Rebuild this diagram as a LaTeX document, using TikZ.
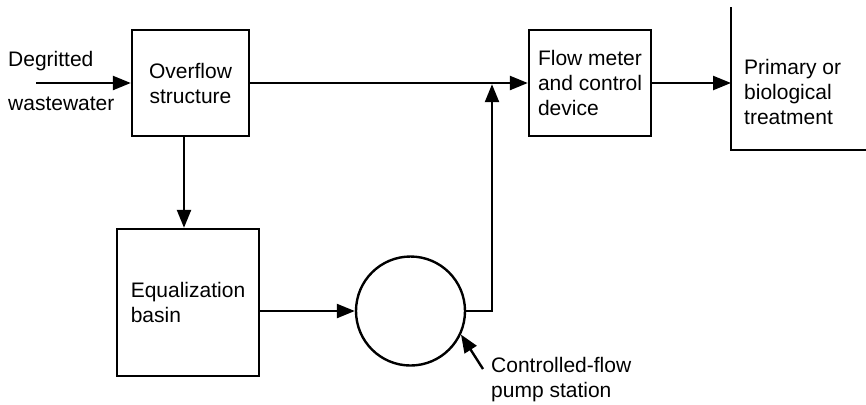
\documentclass[tikz,border=0pt]{standalone}
\usepackage{fontspec}
\setmainfont{Liberation Sans}
\usetikzlibrary{arrows.meta,calc,positioning}

\begin{document}
\begin{tikzpicture}[x=0.5pt,y=-0.5pt,>={Triangle[length=9pt,width=7pt]},
    line width=1.2pt,
    every node/.style={font=\fontsize{10.5}{12.5}\selectfont},
    box/.style={draw,rectangle,align=left,inner sep=0pt},
    lbl/.style={inner sep=0pt,align=left,anchor=west}]
  \useasboundingbox (0,0) rectangle (866,404);
  % boxes
  \node[box,align=center,minimum width=58.5pt,minimum height=53pt]
    (overflow) at (190.5,83) {Overflow\\structure};
  \node[box,minimum width=61pt,minimum height=53pt]
    (flow) at (590,83) {Flow meter\\and control\\device};
  \node[box,minimum width=71pt,minimum height=73.5pt]
    (equal) at (188,302.5) {Equalization\\basin};
  \node[draw,circle,minimum size=54.5pt,inner sep=0pt] (pump) at (410.5,311) {};
  % open treatment unit
  \coordinate (ptop) at (731,7);
  \coordinate (pcorner) at (731,150);
  \coordinate (pend) at (866,150);
  \draw (ptop) -- (pcorner) -- (pend);
  \node[lbl] (treat) at (743,92) {Primary or\\biological\\treatment};
  % labels
  \node[lbl] (degr) at (7,61) {Degritted};
  \node[lbl] (waste) at (7,104) {wastewater};
  \node[lbl] (pumplbl) at (490,380) {Controlled-flow\\pump station};
  \coordinate (in) at (36,83);
  \coordinate (join) at (492,83);
  \coordinate (ptr) at (483,369);
  % flows
  \draw[->] (in) -- (overflow.west);
  \draw[->] (overflow.east) -- (flow.west);
  \draw[->] (flow.east) -- (flow.east -| pcorner);
  \draw[->] ([xshift=-3.25pt]overflow.south) -- ([xshift=-3.25pt]overflow.south |- equal.north);
  \draw[->] (pump.west -| equal.east) -- (pump.west);
  \draw[->,shorten >=0.6pt] (pump.east) -| (join);
  \draw[->] (ptr) -- (pump.-25);
\end{tikzpicture}
\end{document}
